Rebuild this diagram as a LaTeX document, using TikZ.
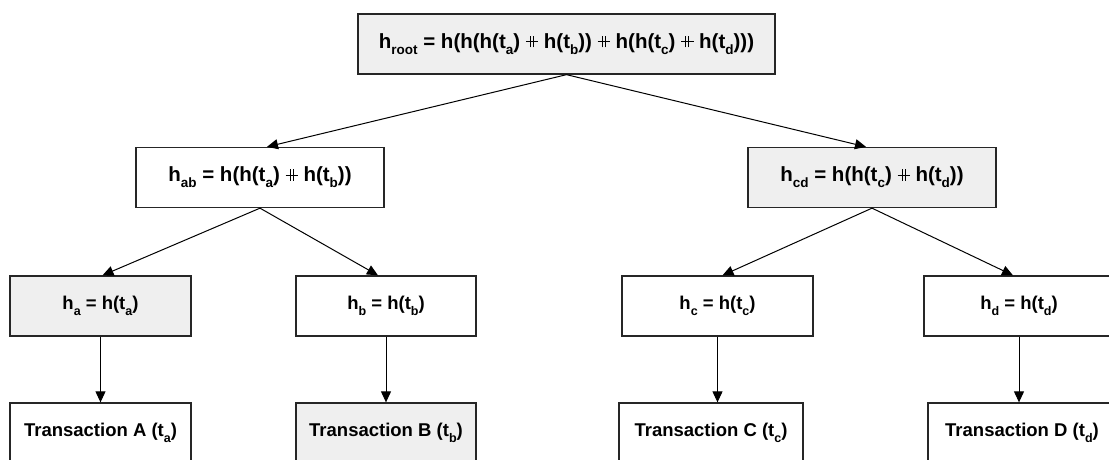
\documentclass[tikz,border=0pt]{standalone}
\usepackage{fontspec}
\setmainfont{Liberation Sans}
\usetikzlibrary{arrows.meta,positioning}

% concatenation operator: a plus sign with a doubled stem
\newcommand{\dplus}{\mbox{\rlap{\rule[0.30em]{0.6em}{0.05em}}\hspace{0.2em}\rule[0.04em]{0.05em}{0.56em}\hspace{0.1em}\rule[0.04em]{0.05em}{0.56em}\hspace{0.2em}}}
% lowered, smaller index; its size is set by the box style
\newcommand{\subsz}{13.5}
\newcommand{\sbs}[1]{\raisebox{-0.3em}{\fontsize{\subsz}{\subsz}\selectfont #1}}

\definecolor{boxline}{HTML}{262626}
\definecolor{boxfill}{HTML}{EFEFEF}

\tikzset{
  hashbox/.style={draw=boxline, line width=1.3pt, fill=white, minimum height=60pt,
    inner sep=0pt, font=\fontsize{20.5}{24}\selectfont\bfseries\renewcommand{\subsz}{13.5}, text=black},
  leafbox/.style={hashbox, font=\fontsize{18.5}{22}\selectfont\bfseries\renewcommand{\subsz}{12.5}},
  shaded/.style={fill=boxfill},
  link/.style={draw=black, line width=1pt, -{Triangle[length=11pt,width=10pt]}}
}

\begin{document}
\begin{tikzpicture}[x=1pt,y=-1pt]
  \useasboundingbox (0,0) rectangle (1109,459);
  \clip (0,0) rectangle (1109,459);

  % root of the tree
  \node[hashbox, shaded, minimum width=417pt] (root) at (566.5,44)
    {h\sbs{root} = h(h(h(t\sbs{a}) \dplus{} h(t\sbs{b})) \dplus{} h(h(t\sbs{c}) \dplus{} h(t\sbs{d})))};

  % inner level
  \node[hashbox, minimum width=248pt] (hab) at (260,177.5)
    {h\sbs{ab} = h(h(t\sbs{a}) \dplus{} h(t\sbs{b}))};
  \node[hashbox, shaded, minimum width=248pt] (hcd) at (872,177.5)
    {h\sbs{cd} = h(h(t\sbs{c}) \dplus{} h(t\sbs{d}))};

  % leaf hashes
  \node[leafbox, shaded, minimum width=181pt] (ha) at (100.5,306) {h\sbs{a} = h(t\sbs{a})};
  \node[leafbox, minimum width=180pt] (hb) at (386,306) {h\sbs{b} = h(t\sbs{b})};
  \node[leafbox, minimum width=191pt] (hc) at (717.5,306) {h\sbs{c} = h(t\sbs{c})};
  \node[leafbox, minimum width=190pt] (hd) at (1019,306) {h\sbs{d} = h(t\sbs{d})};

  % transactions
  \node[leafbox, minimum width=181pt] (ta) at (100.5,433) {Transaction A (t\sbs{a})};
  \node[leafbox, shaded, minimum width=180pt] (tb) at (386,433) {Transaction B (t\sbs{b})};
  \node[leafbox, minimum width=184pt] (tc) at (711,433) {Transaction C (t\sbs{c})};
  \node[leafbox, minimum width=188pt] (td) at (1022,433) {Transaction D (t\sbs{d})};

  % connectors
  \draw[link] (root.south) -- ([xshift=7pt]hab.north);
  \draw[link] (root.south) -- ([xshift=-6pt]hcd.north);
  \draw[link] (hab.south) -- ([xshift=2pt]ha.north);
  \draw[link] (hab.south) -- ([xshift=-8pt]hb.north);
  \draw[link] (hcd.south) -- ([xshift=5pt]hc.north);
  \draw[link] (hcd.south) -- ([xshift=-6pt]hd.north);
  \draw[link] (ha.south) -- (ha.south |- ta.north);
  \draw[link] (hb.south) -- (hb.south |- tb.north);
  \draw[link] (hc.south) -- (hc.south |- tc.north);
  \draw[link] (hd.south) -- (hd.south |- td.north);
\end{tikzpicture}
\end{document}
